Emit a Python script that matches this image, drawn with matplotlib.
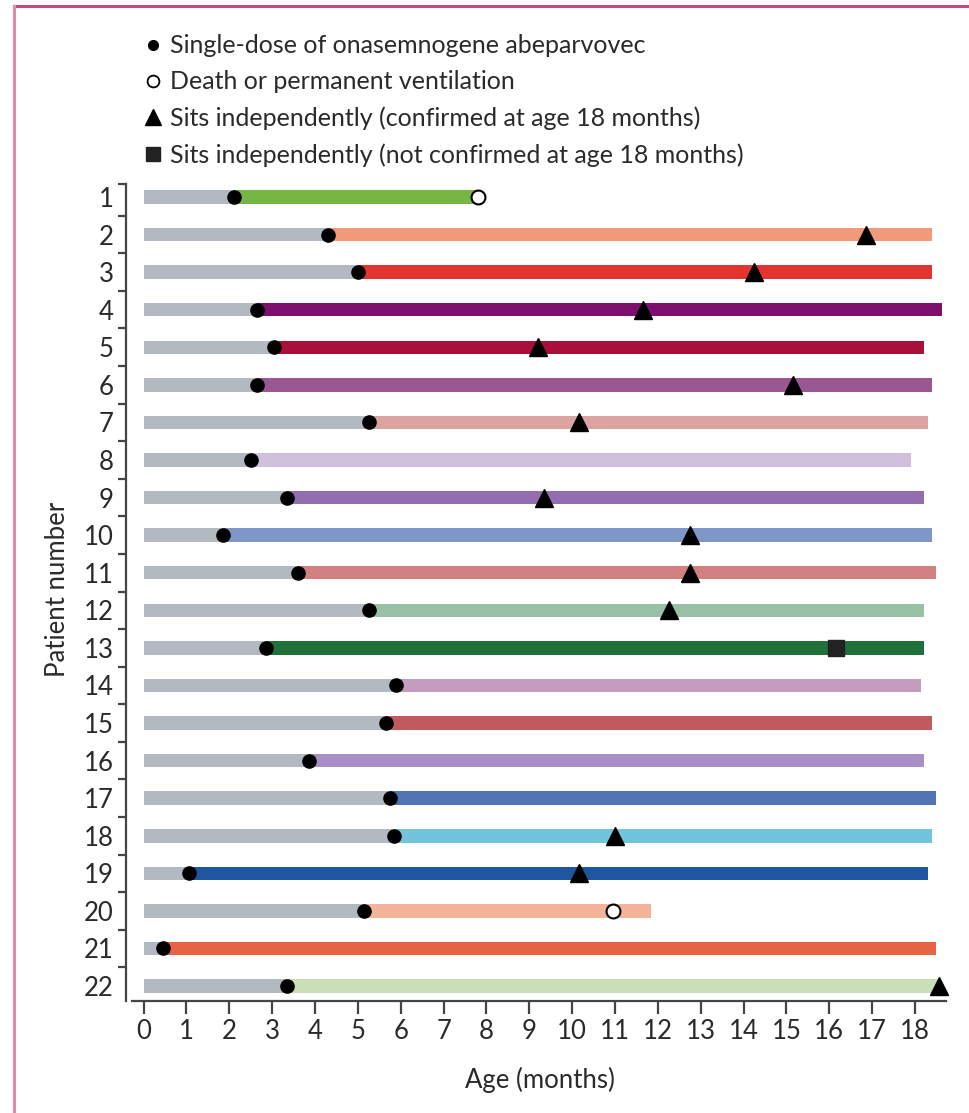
import numpy as np
import matplotlib
matplotlib.use("Agg")
import matplotlib.pyplot as plt
from matplotlib.lines import Line2D

plt.rcParams['font.family'] = ['Liberation Sans Narrow', 'DejaVu Sans Condensed', 'Lato', 'DejaVu Sans']

# ----- DATA (months) -----
patients = list(range(1, 23))
dose_age = [2.1, 4.3, 5.0, 2.65, 3.05, 2.65, 5.25, 2.5, 3.35, 1.85, 3.6,
            5.25, 2.85, 5.9, 5.65, 3.85, 5.75, 5.85, 1.05, 5.15, 0.45, 3.35]
end_age = [7.8, 18.4, 18.4, 18.62, 18.2, 18.4, 18.3, 17.9, 18.2, 18.4, 18.5,
           18.2, 18.2, 18.15, 18.4, 18.2, 18.5, 18.4, 18.3, 11.85, 18.5, 18.55]
bar_colors = ["#76b743", "#f09a7a", "#e3342d", "#7f0f6e", "#a8103a", "#9a5892",
              "#dba4a0", "#d0c0de", "#926db0", "#7f96c8", "#d28080", "#97c0a4",
              "#20703a", "#c49cc0", "#c05a5e", "#a990c4", "#5175b4", "#72c4dc",
              "#1e56a0", "#f4b49a", "#e56444", "#cadfb6"]

# (patient, age) pairs for events
sits_confirmed = [(2, 16.85), (3, 14.25), (4, 11.65), (5, 9.2), (6, 15.15),
                  (7, 10.15), (9, 9.35), (10, 12.75), (11, 12.75), (12, 12.25),
                  (18, 11.0), (19, 10.15), (22, 18.55)]
sits_unconfirmed = [(13, 16.15)]
death_vent = [(1, 7.8), (20, 10.95)]

pre_dose_color = "#b2b9c0"
axis_color = "#444444"
text_color = "#2a2a2a"
fs = 18.5

fig = plt.figure(figsize=(9.7, 11.13), dpi=100)
ax = fig.add_axes([0.1303, 0.1009, 0.8484, 0.739])

bar_h = 0.36
for p, d, e, c in zip(patients, dose_age, end_age, bar_colors):
    ax.barh(p, d, left=0, height=bar_h, color=pre_dose_color, zorder=1)
    ax.barh(p, e - d, left=d, height=bar_h, color=c, zorder=1)

ax.plot(dose_age, patients, "o", color="black", markersize=9.5, zorder=3)
ax.plot([a for _, a in sits_confirmed], [p for p, _ in sits_confirmed], "^",
        color="black", markersize=13, zorder=3)
ax.plot([a for _, a in sits_unconfirmed], [p for p, _ in sits_unconfirmed], "s",
        color="#222222", markersize=11.5, zorder=3)
ax.plot([a for _, a in death_vent], [p for p, _ in death_vent], "o",
        markerfacecolor="white", markeredgecolor="black", markeredgewidth=1.5,
        markersize=10, zorder=3)

ax.set_xlim(-0.4, 18.8)
ax.set_ylim(22.39, 0.5)

for s in ["top", "right"]:
    ax.spines[s].set_visible(False)
for s in ["left", "bottom"]:
    ax.spines[s].set_color(axis_color)
    ax.spines[s].set_linewidth(1.6)
ax.spines["left"].set_bounds(0.65, 22.39)
ax.spines["bottom"].set_bounds(-0.28, 18.72)

ax.set_xticks(range(0, 19))
ax.set_xticklabels([str(i) for i in range(0, 19)], fontsize=fs, color=text_color)
ax.tick_params(axis="x", direction="out", length=9, width=1.6, color=axis_color, pad=4)

ax.set_yticks(patients)
ax.set_yticklabels([str(p) for p in patients], fontsize=fs, color=text_color)
ax.set_yticks([0.65] + [i + 0.5 for i in range(1, 22)], minor=True)
ax.tick_params(axis="y", which="major", length=0, pad=9)
ax.tick_params(axis="y", which="minor", direction="out", length=6, width=1.6,
               color=axis_color)

ax.set_xlabel("Age (months)", fontsize=fs, color=text_color)
ax.set_ylabel("Patient number", fontsize=fs, color=text_color)
ax.xaxis.set_label_coords(0.5026, -0.08)
ax.yaxis.set_label_coords(-0.069, 0.5)

# legend
handles = [
    Line2D([], [], linestyle="none", marker="o", color="black", markersize=7),
    Line2D([], [], linestyle="none", marker="o", markerfacecolor="white",
           markeredgecolor="black", markeredgewidth=1.3, markersize=8.5),
    Line2D([], [], linestyle="none", marker="^", color="black", markersize=11),
    Line2D([], [], linestyle="none", marker="s", color="#222222", markersize=10),
]
labels = ["Single-dose of onasemnogene abeparvovec",
          "Death or permanent ventilation",
          "Sits independently (confirmed at age 18 months)",
          "Sits independently (not confirmed at age 18 months)"]
fig.legend(handles, labels, loc="upper left", bbox_to_anchor=(0.138, 0.978),
           frameon=False, fontsize=18, handlelength=0.75, handletextpad=0.3,
           labelspacing=0.52, borderaxespad=0, labelcolor=text_color)

# page frame
fig.add_artist(Line2D([14 / 970, 1.0], [1 - 6 / 1113] * 2, color="#c84a78",
                      linewidth=2.2, transform=fig.transFigure))
fig.add_artist(Line2D([14 / 970] * 2, [0.0, 1 - 6 / 1113], color="#e08aae",
                      linewidth=2.2, transform=fig.transFigure))

fig.savefig("out.png", dpi=100)
